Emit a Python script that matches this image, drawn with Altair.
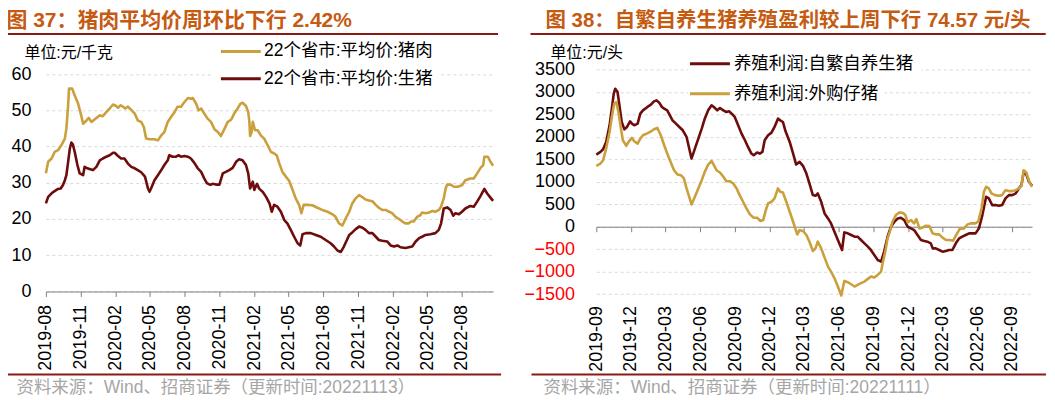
import altair as alt
import pandas as pd

# ---------------- data ----------------
LEFT_START = "2019-08-01"
RIGHT_START = "2019-09-01"

# days after LEFT_START, 22-province average pork price (yuan/kg)
pork_days = [0, 6, 15, 23, 32, 41, 50, 54, 58, 61,
             69, 76, 85, 93, 98, 107, 113, 120, 133, 142,
             150, 159, 168, 177, 185, 190, 197, 203, 209, 216,
             225, 234, 242, 251, 258, 264, 273, 286, 295, 304,
             312, 321, 330, 339, 347, 356, 365, 374, 382, 387,
             396, 402, 409, 417, 426, 435, 444, 453, 461, 470,
             479, 488, 496, 505, 512, 518, 527, 533, 536, 538,
             542, 545, 551, 558, 566, 575, 584, 593, 601, 608,
             615, 623, 632, 641, 650, 658, 667, 673, 679, 689,
             702, 715, 728, 742, 755, 763, 772, 781, 790, 799,
             807, 816, 825, 834, 842, 851, 860, 869, 877, 886,
             895, 904, 912, 921, 930, 939, 947, 956, 962, 969,
             978, 987, 991, 1000, 1009, 1018, 1026, 1035, 1041, 1048,
             1053, 1057, 1066, 1075, 1085, 1096, 1105, 1118, 1127, 1136,
             1145, 1152, 1155, 1164, 1171, 1178]
pork_price = [32.6, 35.8, 36.7, 38.5, 39.0, 40.4, 42.2, 45.0, 50.5, 56.0,
              56.0, 54.1, 51.8, 48.6, 46.3, 47.2, 47.9, 46.8, 47.9, 48.6,
              48.4, 49.5, 50.5, 51.6, 51.2, 50.7, 51.4, 51.0, 50.5, 51.0,
              50.1, 49.1, 47.2, 46.8, 45.4, 42.2, 42.0, 42.0, 41.7, 43.1,
              44.0, 46.8, 48.2, 49.5, 51.0, 51.0, 52.3, 53.4, 53.2, 53.4,
              51.8, 50.0, 50.5, 49.1, 47.7, 46.8, 44.8, 44.0, 42.9, 44.8,
              46.8, 47.4, 49.1, 50.5, 51.8, 52.1, 51.2, 49.5, 46.8, 42.9,
              44.0, 46.8, 44.5, 44.5, 43.1, 42.2, 40.4, 38.5, 38.1, 37.6,
              35.3, 33.0, 31.7, 30.5, 28.0, 25.7, 23.9, 21.6, 23.9, 23.9,
              23.8, 23.1, 22.5, 22.0, 21.3, 20.6, 18.8, 18.2, 20.2, 22.0,
              24.3, 25.7, 26.6, 26.0, 25.4, 25.1, 24.9, 23.9, 23.1, 22.5,
              22.5, 22.0, 21.6, 20.6, 20.0, 19.3, 18.8, 18.8, 19.3, 19.3,
              20.6, 21.1, 21.8, 21.6, 21.8, 22.2, 22.0, 22.5, 23.4, 25.7,
              28.4, 29.5, 29.5, 28.9, 28.9, 29.3, 30.7, 31.2, 31.2, 32.6,
              34.1, 34.9, 37.2, 37.2, 35.8, 34.7]

# days after LEFT_START, 22-province average live hog price (yuan/kg)
hog_days = [0, 6, 15, 23, 32, 39, 45, 50, 54, 58,
            63, 67, 71, 76, 83, 89, 98, 102, 109, 115,
            124, 133, 142, 150, 159, 168, 177, 181, 190, 198,
            207, 216, 225, 234, 242, 251, 261, 269, 273, 277,
            286, 295, 304, 312, 321, 325, 334, 343, 349, 356,
            365, 374, 382, 391, 400, 409, 417, 424, 433, 439,
            448, 457, 466, 474, 483, 492, 501, 509, 518, 527,
            533, 538, 545, 549, 556, 562, 571, 580, 589, 595,
            601, 610, 619, 628, 636, 645, 654, 663, 670, 676,
            685, 698, 711, 724, 737, 750, 759, 768, 777, 785,
            799, 807, 816, 825, 834, 842, 851, 860, 869, 877,
            886, 899, 908, 917, 926, 934, 947, 956, 965, 974,
            983, 991, 1000, 1013, 1026, 1035, 1041, 1048, 1057, 1066,
            1073, 1079, 1088, 1096, 1105, 1118, 1127, 1136, 1145, 1155,
            1162, 1171, 1178]
hog_price = [24.3, 26.1, 27.1, 27.7, 28.3, 28.4, 29.4, 30.7, 32.1, 35.3,
             39.4, 41.1, 40.6, 38.5, 34.9, 32.6, 32.1, 34.4, 34.0, 33.8,
             33.5, 34.4, 36.2, 36.7, 37.2, 37.6, 38.3, 38.3, 37.4, 36.7,
             36.7, 35.3, 34.4, 34.0, 33.5, 32.9, 31.7, 28.4, 27.5, 28.4,
             30.7, 32.1, 33.5, 34.9, 36.2, 37.6, 37.2, 37.2, 37.6, 37.2,
             37.4, 37.2, 36.7, 35.5, 34.0, 33.0, 31.2, 29.9, 29.4, 29.7,
             29.5, 29.5, 32.6, 33.0, 33.5, 34.1, 35.8, 36.5, 36.2, 34.9,
             32.6, 28.4, 30.3, 28.0, 29.7, 28.4, 27.5, 26.1, 24.3, 22.0,
             23.9, 23.4, 22.0, 19.7, 18.8, 17.0, 15.1, 13.3, 12.7, 15.8,
             16.1, 16.1, 15.6, 15.1, 14.2, 13.3, 12.4, 11.3, 10.9, 12.4,
             15.6, 16.3, 17.2, 17.9, 17.6, 17.0, 16.1, 16.1, 15.1, 14.2,
             14.0, 13.8, 12.7, 12.4, 12.7, 12.2, 12.0, 12.2, 12.4, 13.8,
             14.7, 15.1, 15.6, 15.8, 16.1, 17.0, 18.8, 22.9, 23.2, 22.5,
             20.9, 21.6, 21.3, 22.0, 22.9, 23.6, 23.4, 24.8, 26.4, 28.3,
             27.1, 25.9, 25.0]

# days after RIGHT_START, breeding profit: self-bred hogs (yuan/head)
self_days = [0, 11, 18, 26, 35, 41, 46, 50, 56, 61,
             67, 74, 81, 89, 94, 100, 109, 116, 123, 129,
             138, 144, 152, 159, 166, 173, 179, 187, 194, 201,
             210, 219, 228, 238, 245, 251, 260, 269, 278, 286,
             295, 304, 310, 319, 326, 335, 343, 350, 357, 365,
             374, 383, 392, 400, 409, 415, 424, 431, 438, 444,
             453, 462, 470, 479, 485, 492, 499, 510, 519, 527,
             536, 545, 554, 562, 571, 578, 584, 593, 602, 611,
             619, 628, 637, 648, 654, 663, 672, 681, 689, 698,
             707, 716, 724, 733, 742, 751, 759, 768, 777, 786,
             795, 803, 812, 821, 830, 838, 847, 856, 865, 873,
             882, 887, 895, 904, 913, 922, 930, 939, 948, 957,
             965, 974, 983, 992, 1000, 1009, 1018, 1028, 1035, 1044,
             1053, 1062, 1070, 1079, 1088, 1097, 1106, 1114, 1121, 1127,
             1134, 1141, 1149]
self_profit = [1605, 1664, 1723, 1886, 2256, 2626, 2959, 3070, 2996, 2700,
               2330, 2167, 2219, 2345, 2293, 2256, 2293, 2515, 2589, 2626,
               2685, 2715, 2789, 2811, 2759, 2663, 2626, 2589, 2478, 2367,
               2293, 2219, 2145, 1997, 1738, 1516, 1738, 1960, 2182, 2404,
               2589, 2700, 2663, 2589, 2641, 2589, 2552, 2567, 2515, 2441,
               2256, 2071, 1923, 1775, 1627, 1590, 1650, 1627, 1664, 1923,
               2034, 2093, 2219, 2404, 2367, 2330, 2123, 1886, 1627, 1383,
               1442, 1354, 1183, 962, 703, 688, 740, 555, 296, 185,
               74, -111, -296, -518, -126, -148, -185, -222, -222, -296,
               -370, -444, -518, -629, -740, -777, -555, -222, 0, 111,
               185, 200, 148, 0, -37, -74, -185, -296, -318, -333,
               -370, -481, -481, -518, -555, -540, -518, -518, -370, -259,
               -222, -185, -148, -148, -148, -37, 259, 666, 629, 481,
               481, 466, 481, 629, 703, 703, 740, 851, 925, 1220,
               1161, 999, 910]

# days after RIGHT_START, breeding profit: purchased piglets (yuan/head)
buy_days = [0, 11, 18, 26, 35, 41, 47, 53, 59, 65,
            70, 79, 85, 94, 100, 109, 116, 123, 133, 142,
            152, 161, 170, 179, 187, 196, 205, 214, 223, 231,
            238, 245, 251, 260, 269, 278, 286, 295, 304, 310,
            317, 326, 335, 343, 352, 361, 370, 378, 387, 396,
            405, 415, 424, 433, 440, 447, 453, 462, 470, 479,
            485, 492, 501, 510, 519, 526, 530, 536, 545, 554,
            562, 571, 578, 584, 593, 602, 611, 619, 628, 637,
            646, 654, 663, 672, 681, 689, 698, 707, 716, 724,
            733, 742, 751, 755, 762, 768, 774, 781, 790, 799,
            808, 815, 821, 830, 838, 844, 852, 860, 869, 878,
            887, 895, 904, 913, 922, 932, 941, 950, 958, 970,
            979, 987, 999, 1007, 1016, 1022, 1028, 1035, 1042, 1051,
            1062, 1070, 1079, 1088, 1097, 1106, 1114, 1121, 1127, 1134,
            1141, 1149]
buy_profit = [1354, 1405, 1479, 1738, 2108, 2441, 2737, 2774, 2515, 2182,
              1923, 1797, 1886, 1975, 1901, 1849, 1960, 2034, 2071, 2108,
              2167, 2197, 2034, 1812, 1627, 1442, 1257, 1161, 1147, 1073,
              851, 666, 496, 666, 851, 1036, 1220, 1383, 1465, 1368,
              1257, 1206, 1110, 1013, 1013, 962, 851, 703, 555, 407,
              274, 200, 200, 126, 148, 370, 518, 555, 629, 851,
              777, 762, 555, 333, 111, -74, -170, -74, -96, -185,
              -333, -540, -481, -333, -481, -688, -888, -999, -1147, -1331,
              -1531, -1206, -1235, -1280, -1331, -1295, -1257, -1220, -1161, -1110,
              -1132, -1073, -999, -814, -555, -259, -111, 111, 259, 318,
              311, 259, 96, 148, 74, 170, -37, -22, 22, 15,
              -148, -170, -170, -244, -296, -296, -311, -170, -52, -37,
              52, 74, 74, 111, 407, 777, 888, 851, 740, 703,
              688, 703, 814, 792, 792, 814, 851, 910, 1257, 1206,
              1013, 888]

left_series = ["22个省市:平均价:猪肉", "22个省市:平均价:生猪"]
right_series = ["养殖利润:自繁自养生猪", "养殖利润:外购仔猪"]
left_title = "图 37：猪肉平均价周环比下行 2.42%"
right_title = "图 38：自繁自养生猪养殖盈利较上周下行 74.57 元/头"
left_unit = "单位:元/千克"
right_unit = "单位:元/头"
left_source = "资料来源：Wind、招商证券（更新时间:20221113）"
right_source = "资料来源：Wind、招商证券（更新时间:20221111）"
left_x_ticks = ["2019-08", "2019-11", "2020-02", "2020-05", "2020-08", "2020-11", "2021-02",
                "2021-05", "2021-08", "2021-11", "2022-02", "2022-05", "2022-08"]
right_x_ticks = ["2019-09", "2019-12", "2020-03", "2020-06", "2020-09", "2020-12", "2021-03",
                 "2021-06", "2021-09", "2021-12", "2022-03", "2022-06", "2022-09"]
left_y_ticks = [0, 10, 20, 30, 40, 50, 60]
right_y_ticks = [-1500, -1000, -500, 0, 500, 1000, 1500, 2000, 2500, 3000, 3500]
left_x_range = ("2019-08-01", "2022-10-22")
right_x_range = ("2019-09-01", "2022-10-24")
left_y_range = (0, 61.3)
right_y_range = (-1500, 3500)

# ---------------- style ----------------
GOLD = "#C9A03C"
DARK_RED = "#6E0C0C"
TITLE_COLOR = "#C55A11"
RULE_COLOR = "#8C1A14"
AXIS_GRAY = "#808080"
GRID_GRAY = "#D9D9D9"
SOURCE_GRAY = "#A6A6A6"
FONT = "'Liberation Sans', 'Noto Sans CJK SC', sans-serif"
TICK_FONT_SIZE = 18


def frame(start, days, values, name):
    dates = pd.Timestamp(start) + pd.to_timedelta(days, unit="D")
    return pd.DataFrame({"date": dates, "value": values, "series": name})


def dt(s):
    parts = [int(p) for p in s.split("-")]
    return alt.DateTime(year=parts[0], month=parts[1], date=parts[2] if len(parts) > 2 else 1)


def deco_text(txt, x, y, size, color, weight="normal", baseline="alphabetic"):
    return alt.Chart(pd.DataFrame({"t": [txt]})).mark_text(
        align="left", baseline=baseline, font=FONT, fontSize=size,
        fontWeight=weight, color=color
    ).encode(text="t:N", x=alt.value(x), y=alt.value(y))


def deco_rule(x1, x2, y, color, width):
    return alt.Chart(pd.DataFrame({"k": [0]})).mark_rule(
        color=color, strokeWidth=width
    ).encode(x=alt.value(x1), x2=alt.value(x2), y=alt.value(y))


def deco_rect(x1, x2, y1, y2):
    return alt.Chart(pd.DataFrame({"k": [0]})).mark_rect(color="white").encode(
        x=alt.value(x1), x2=alt.value(x2), y=alt.value(y1), y2=alt.value(y2))


def line_layer(df, x_enc, y_enc, names, colors):
    return alt.Chart(df).mark_line(strokeWidth=2.6, strokeJoin="round").encode(
        x=x_enc, y=y_enc,
        color=alt.Color("series:N", scale=alt.Scale(domain=names, range=colors), legend=None),
    )


# ---------------- left panel ----------------
LW, LH = 448.5, 222.7
lx = alt.X("date:T", title=None,
           scale=alt.Scale(domain=[dt(left_x_range[0]), dt(left_x_range[1])]),
           axis=alt.Axis(values=[dt(t) for t in left_x_ticks], format="%Y-%m", labelAngle=-90,
                         labelFlush=False, labelOverlap=False, labelFontSize=TICK_FONT_SIZE,
                         labelColor="black", labelPadding=8, tickSize=5, tickColor=AXIS_GRAY,
                         domainColor=AXIS_GRAY, grid=False))
ly = alt.Y("value:Q", title=None,
           scale=alt.Scale(domain=list(left_y_range), nice=False, zero=False),
           axis=alt.Axis(values=left_y_ticks, domain=False, ticks=False, labelPadding=15,
                         labelFontSize=TICK_FONT_SIZE, labelColor="black", grid=True,
                         gridColor=GRID_GRAY, gridDash=[3, 3]))
left_colors = [GOLD, DARK_RED]
left_df_pork = frame(LEFT_START, pork_days, pork_price, left_series[0])
left_df_hog = frame(LEFT_START, hog_days, hog_price, left_series[1])

left_layers = [
    line_layer(left_df_hog, lx, ly, left_series, left_colors),
    line_layer(left_df_pork, lx, ly, left_series, left_colors),
    deco_rect(168.5, 396, -1.5, 20.5),
    deco_rule(175.5, 215.5, -18, left_colors[0], 3),
    deco_rule(175.5, 215.5, 9.4, left_colors[1], 3),
    deco_text(left_series[0], 218.8, -18, 17.5, "black", baseline="middle"),
    deco_text(left_series[1], 218.8, 9.4, 17.5, "black", baseline="middle"),
    deco_text(left_unit, -21.5, -11.8, 16, "black"),
    deco_text(left_title, -39.5, -42.3, 21, TITLE_COLOR, weight="bold"),
    deco_rule(-41.5, 453.5, -35.6, RULE_COLOR, 2),
    deco_rule(-41.5, 456.5, 306, RULE_COLOR, 2),
    deco_text(left_source, -29.5, 324.2, 17.5, SOURCE_GRAY),
]
left = alt.layer(*left_layers).properties(width=LW, height=LH)

# ---------------- right panel ----------------
RW, RH = 437, 225.4
zero_from_top = RH * right_y_range[1] / (right_y_range[1] - right_y_range[0])
rx = alt.X("date:T", title=None,
           scale=alt.Scale(domain=[dt(right_x_range[0]), dt(right_x_range[1])]),
           axis=alt.Axis(values=[dt(t) for t in right_x_ticks], format="%Y-%m", labelAngle=-90,
                         labelFlush=False, labelOverlap=False, labelFontSize=TICK_FONT_SIZE,
                         labelColor="black", offset=zero_from_top - RH, labelPadding=74,
                         tickSize=5, tickColor=AXIS_GRAY, domainColor=AXIS_GRAY, grid=False))
ry = alt.Y("value:Q", title=None,
           scale=alt.Scale(domain=list(right_y_range), nice=False, zero=False),
           axis=alt.Axis(values=right_y_ticks, format="d", domain=False, ticks=False,
                         labelPadding=22, labelFontSize=TICK_FONT_SIZE,
                         labelColor={"condition": {"test": "datum.value < 0", "value": "#FF0000"},
                                     "value": "#000000"},
                         grid=True, gridColor=GRID_GRAY, gridDash=[3, 3]))
right_colors = [DARK_RED, GOLD]
right_df_self = frame(RIGHT_START, self_days, self_profit, right_series[0])
right_df_buy = frame(RIGHT_START, buy_days, buy_profit, right_series[1])

right_layers = [
    line_layer(right_df_self, rx, ry, right_series, right_colors),
    line_layer(right_df_buy, rx, ry, right_series, right_colors),
    deco_rect(92, 326, -15, 4),
    deco_rect(92, 289, 14.5, 33),
    deco_rule(94, 134, -5.6, right_colors[0], 3),
    deco_rule(94, 134, 24.4, right_colors[1], 3),
    deco_text(right_series[0], 138, -5.6, 17.5, "black", baseline="middle"),
    deco_text(right_series[1], 138, 24.4, 17.5, "black", baseline="middle"),
    deco_text(right_unit, -46, -11.8, 16, "black"),
    deco_text(right_title, -51, -42.3, 20.5, TITLE_COLOR, weight="bold"),
    deco_rule(-66, 450.7, -35.6, RULE_COLOR, 2),
    deco_rule(-65, 451, 306, RULE_COLOR, 2),
    deco_text(right_source, -53, 324.2, 17.5, SOURCE_GRAY),
]
right = alt.layer(*right_layers).properties(width=RW, height=RH)

chart = alt.hconcat(
    left, right, spacing=103, bounds="flush",
    padding={"left": -5, "top": 1, "right": 0, "bottom": 0},
).resolve_scale(color="independent").configure_view(stroke=None).configure_axis(
    labelFont=FONT
)

chart.save("out.html", embed_options={"renderer": "svg", "actions": False})
